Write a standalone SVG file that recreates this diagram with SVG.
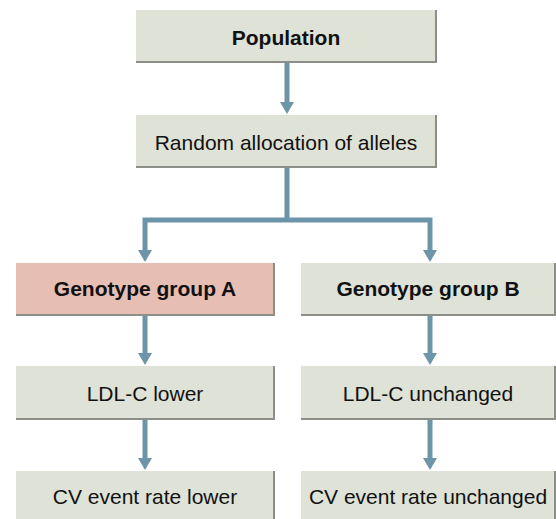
<svg xmlns="http://www.w3.org/2000/svg" width="556" height="519" viewBox="0 0 556 519">
<defs>
<style>
.box{fill:#dee2d7;}
.pink{fill:#e7beb3;}
.edge{fill:none;stroke:#8d8e88;stroke-width:2;}
.t{font-family:"Liberation Sans",Arial,sans-serif;font-size:21px;fill:#111;text-anchor:middle;}
.b{font-weight:bold;}
.c{fill:none;stroke:#6c95aa;stroke-width:5;}
</style>
<marker id="ah" viewBox="0 0 14 12" refX="7" refY="12" markerWidth="14" markerHeight="12" markerUnits="userSpaceOnUse" orient="auto-start-reverse">
<path d="M0,0 L14,0 L7,12 Z" fill="#6c95aa"/>
</marker>
</defs>
<rect width="556" height="519" fill="#ffffff"/>
<g id="connectors">
<line class="c" x1="287" y1="63" x2="287" y2="103"/>
<path d="M280,102 L294,102 L287,114 Z" fill="#6c95aa"/>
<path class="c" d="M287,168 V220 M145,220 H430 M145,217.5 V251 M430,217.5 V251"/>
<path d="M138,250 L152,250 L145,262 Z" fill="#6c95aa"/>
<path d="M423,250 L437,250 L430,262 Z" fill="#6c95aa"/>
<line class="c" x1="145" y1="316" x2="145" y2="354"/>
<path d="M138,353 L152,353 L145,365 Z" fill="#6c95aa"/>
<line class="c" x1="430" y1="316" x2="430" y2="354"/>
<path d="M423,353 L437,353 L430,365 Z" fill="#6c95aa"/>
<line class="c" x1="145" y1="420" x2="145" y2="459"/>
<path d="M138,458 L152,458 L145,470 Z" fill="#6c95aa"/>
<line class="c" x1="430" y1="420" x2="430" y2="459"/>
<path d="M423,458 L437,458 L430,470 Z" fill="#6c95aa"/>
</g>
<g id="population">
<rect class="box" x="136" y="10" width="300" height="53"/>
<path class="edge" d="M136,62 H436 V10"/>
<text class="t b" x="286" y="45">Population</text>
</g>
<g id="random">
<rect class="box" x="136" y="115" width="300" height="53"/>
<path class="edge" d="M136,167 H436 V115"/>
<text class="t" x="286" y="150">Random allocation of alleles</text>
</g>
<g id="groupA">
<rect class="pink" x="16" y="263" width="258" height="53"/>
<path class="edge" d="M16,315 H274 V263"/>
<text class="t b" x="145" y="296">Genotype group A</text>
</g>
<g id="groupB">
<rect class="box" x="301" y="263" width="254" height="53"/>
<path class="edge" d="M301,315 H555 V263"/>
<text class="t b" x="428" y="296">Genotype group B</text>
</g>
<g id="ldlA">
<rect class="box" x="16" y="366" width="258" height="54"/>
<path class="edge" d="M16,419 H274 V366"/>
<text class="t" x="145" y="401">LDL-C lower</text>
</g>
<g id="ldlB">
<rect class="box" x="301" y="366" width="254" height="54"/>
<path class="edge" d="M301,419 H555 V366"/>
<text class="t" x="428" y="401">LDL-C unchanged</text>
</g>
<g id="cvA">
<rect class="box" x="16" y="471" width="258" height="54"/>
<path class="edge" d="M274,471 V525"/>
<text class="t" x="145" y="504">CV event rate lower</text>
</g>
<g id="cvB">
<rect class="box" x="301" y="471" width="254" height="54"/>
<path class="edge" d="M555,471 V525"/>
<text class="t" x="428" y="504">CV event rate unchanged</text>
</g>
</svg>
